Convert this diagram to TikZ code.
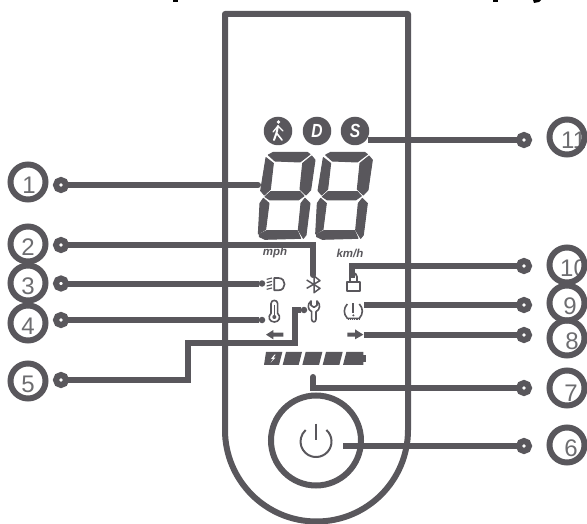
\documentclass[tikz,border=0pt]{standalone}
\usepackage{fontspec}
\setmainfont{Liberation Sans}
\definecolor{dark}{HTML}{59575C}
\definecolor{numgray}{HTML}{6D6D70}
\tikzset{
  ring/.style={circle, draw=dark, line width=6pt, minimum size=35pt, inner sep=0pt, outer sep=0pt},
  num/.style={text=numgray, inner sep=0pt, font=\fontsize{24}{24}\selectfont},
  enddot/.style={circle, draw=dark, line width=6pt, minimum size=10pt, inner sep=0pt, outer sep=0pt},
  tipdot/.style={circle, fill=dark, minimum size=6.5pt, inner sep=0pt, outer sep=0pt},
  leader/.style={draw=dark, line width=6pt},
  thin icon/.style={draw=dark, line width=1.2pt, line join=round},
  unit/.style={text=dark, inner sep=0pt, font=\fontsize{11.5}{11.5}\selectfont\bfseries\itshape},
  badge/.style={circle, fill=dark, minimum size=28.5pt, inner sep=0pt, text=white, font=\fontsize{19}{19}\selectfont\bfseries\itshape},
  segment/.style={fill=dark, draw=dark, line width=1pt, line join=round}
}
\begin{document}
\begin{tikzpicture}[x=1pt, y=-1pt]
    \useasboundingbox (0,0) rectangle (587,524);

    \fill[black] (173,0) rectangle (177.5,2.5);
    \fill[black] (493,0) rectangle (497.5,2.5);
    \fill[black] (533,0) -- (541,0) -- (539,2) -- (534,3) -- cycle;

    \draw[dark, line width=6pt, line join=round] (225,430) -- (225,14) -- (408,14) -- (408,430) arc[start angle=0, end angle=180, radius=91.5];

    \node[num] (n1) at (29,185) {1};
    \node[num] (n2) at (28,247) {2};
    \node[num] (n3) at (28,286) {3};
    \node[num] (n4) at (28,326) {4};
    \node[num] (n5) at (28,384) {5};
    \node[num] (n6) at (571,448) {6};
    \node[num] (n7) at (571,393) {7};
    \node[num] (n8) at (572,341) {8};
    \node[num] (n9) at (570,306) {9};
    \node[num, anchor=west] (n10) at (560,268) {10};
    \node[num, anchor=west] (n11) at (561,140) {11};

    \node[ring] (c1) at (28,182) {};
    \node[ring] (c2) at (28,244) {};
    \node[ring] (c3) at (28,283) {};
    \node[ring] (c4) at (28,323) {};
    \node[ring] (c5) at (28,381) {};
    \node[ring] (c6) at (567,445) {};
    \node[ring] (c7) at (567,388) {};
    \node[ring] (c8) at (567,338) {};
    \node[ring] (c9) at (567,303) {};
    \node[ring] (c10) at (567,265) {};
    \node[ring] (c11) at (567,137) {};

    \node[enddot] (d1) at (61,185) {};
    \node[enddot] (d2) at (61,245) {};
    \node[enddot] (d3) at (61,283.5) {};
    \node[enddot] (d4) at (61,320) {};
    \node[enddot] (d5) at (61,380) {};
    \node[enddot] (d6) at (524,446) {};
    \node[enddot] (d7) at (524,388) {};
    \node[enddot] (d8) at (524,335) {};
    \node[enddot] (d9) at (524,305) {};
    \node[enddot] (d10) at (524,266) {};
    \node[enddot] (d11) at (524,140) {};

    \node[tipdot] (t3) at (262,283.5) {};
    \node[tipdot] (t4) at (262,320) {};
    \node[tipdot] (t5) at (304,310) {};

    \coordinate (e1) at (258,185);
    \coordinate (e2) at (313,275);
    \coordinate (e6) at (343,446);
    \coordinate (e7) at (313,377);
    \coordinate (e8) at (364,335);
    \coordinate (e9) at (364,305);
    \coordinate (e10) at (352,278);
    \coordinate (e11) at (368,140);
    \coordinate (b1) at (188,342.5);
    \coordinate (b2) at (295,310);

    \draw[leader, line cap=round] (d1) -- (e1);
    \draw[leader, line cap=round] (d2) -| (e2);
    \draw[leader] (d3) -- (t3);
    \draw[leader] (d4) -- (t4);
    \draw[leader, line join=miter] (d5) -| (b1) -| (b2) -- (t5);
    \draw[leader] (d6) -- (e6);
    \draw[leader, line cap=round] (d7) -| (e7);
    \draw[leader] (d8) -- (e8);
    \draw[leader] (d9) -- (e9);
    \draw[leader] (d10) -| (e10);
    \draw[leader] (d11) -- (e11);

    \node[circle, draw=dark, line width=6pt, minimum size=90pt, inner sep=0pt] (power) at (316,440.5) {};
    \draw[dark, line width=2pt] (326.4,430) arc[start angle=-48, end angle=228, radius=15.5];
    \draw[dark, line width=2.5pt] (316,423.5) -- (316,440);

    \node[badge] (walk) at (278,131) {};
    \node[badge] (dmode) at (317,131) {\scalebox{0.82}[1]{D}};
    \node[badge] (smode) at (355,131) {\scalebox{0.82}[1]{S}};
    \fill[white] (278.5,122) circle (1.9);
    \draw[white, line width=2pt, line cap=round, line join=round] (278,126) -- (276.5,133) -- (274,140);
    \draw[white, line width=1.6pt, line cap=round, line join=round] (276.5,133) -- (282,140);
    \draw[white, line width=1.3pt, line cap=round, line join=round] (273,132) -- (278,126) -- (283,131);

    \node[unit] (mph) at (275,253) {mph};
    \node[unit] (kmh) at (350,253) {km/h};

    \foreach \dx in {0,172} {
      \begin{scope}[shift={(220,100)}, scale=1/3, xshift=\dx]
        \path[segment] (145,165) -- (160,157) -- (262,157) -- (270,163) -- (240,186) -- (165,183) -- cycle;
        \path[segment] (138,173) -- (160,190) -- (151,268) -- (133,285) -- (122,272) -- cycle;
        \path[segment] (275,168) -- (285,180) -- (272,270) -- (258,285) -- (240,268) -- (248,190) -- cycle;
        \path[segment] (135,290) -- (152,275) -- (240,275) -- (252,288) -- (235,300) -- (150,300) -- cycle;
        \path[segment] (130,295) -- (147,310) -- (137,388) -- (115,402) -- (120,310) -- cycle;
        \path[segment] (255,295) -- (270,310) -- (258,405) -- (250,415) -- (235,390) -- (243,310) -- cycle;
        \path[segment] (118,403) -- (140,392) -- (232,392) -- (242,415) -- (135,418) -- (118,410) -- cycle;
      \end{scope}
    }

    \begin{scope}[shift={(240,250)}, scale=1/3]
      % headlight
      \draw[thin icon, line width=1.7pt] (103,84) -- (115,84) .. controls (140,84) and (140,121) .. (115,121) -- (103,121) -- cycle;
      \draw[thin icon] (80,88) -- (96,84);
      \draw[thin icon] (80,98) -- (96,94);
      \draw[thin icon] (80,108) -- (96,104);
      \draw[thin icon] (80,118) -- (96,114);
      % bluetooth
      \draw[thin icon, line width=1.5pt] (200,90) -- (240,115) -- (222,128) -- (222,78) -- (240,92) -- (200,115);
      % padlock
      \draw[thin icon, line width=1.7pt] (321,96) rectangle (359,124);
      \draw[thin icon, line width=1.7pt] (330,96) -- (330,80) .. controls (333,65) and (348,65) .. (351,80) -- (351,96);
      % thermometer
      \draw[thin icon, line width=1.6pt] (93,190) -- (93,161) .. controls (93,148) and (113,148) .. (113,161) -- (113,190) .. controls (124,200) and (118,216) .. (103,216) .. controls (88,216) and (82,200) .. (93,190) -- cycle;
      \draw[dark, line width=1.5pt] (103,165) -- (103,200);
      \fill[dark] (103,201) circle (6);
      % wrench
      \draw[thin icon, line width=1.6pt] (213,153) -- (213,166) -- (222,172) -- (231,166) -- (231,153) .. controls (243,162) and (240,180) .. (228,185) -- (228,208) .. controls (228,218) and (215,218) .. (215,208) -- (215,185) .. controls (203,180) and (201,162) .. (213,153) -- cycle;
      % left arrow
      \fill[dark] (78,254) -- (100,240) -- (100,248) -- (130,248) -- (130,260) -- (100,260) -- (100,268) -- cycle;
      % right arrow
      \fill[dark] (322,248) -- (345,248) -- (345,238) -- (370,254) -- (345,268) -- (345,260) -- (322,260) -- cycle;
      % tyre
      \draw[thin icon, line width=1.6pt] (322,162) .. controls (310,175) and (310,192) .. (322,205) -- (358,205) .. controls (370,192) and (370,175) .. (358,162);
      \draw[dark, line width=2pt] (340,160) -- (340,188);
      \fill[dark] (340,196) circle (3.5);
      \draw[dark, line width=1pt, dash pattern=on 1.2pt off 1pt] (323,209) -- (358,209);
      % battery
      \fill[dark] (78,306) -- (127,306) -- (117,345) -- (72,345) -- cycle;
      \fill[white] (103,314) -- (93,327) -- (99,327) -- (92,338) -- (106,323) -- (100,323) -- (107,314) -- cycle;
      \fill[dark] (138,306) -- (186,306) -- (176,345) -- (128,345) -- cycle;
      \fill[dark] (197,306) -- (247,306) -- (237,345) -- (187,345) -- cycle;
      \fill[dark] (258,306) -- (308,306) -- (298,345) -- (248,345) -- cycle;
      \fill[dark] (319,306) -- (370,306) -- (370,345) -- (309,345) -- cycle;
      \fill[dark] (370,315) rectangle (378,335);
    \end{scope}
\end{tikzpicture}
\end{document}
